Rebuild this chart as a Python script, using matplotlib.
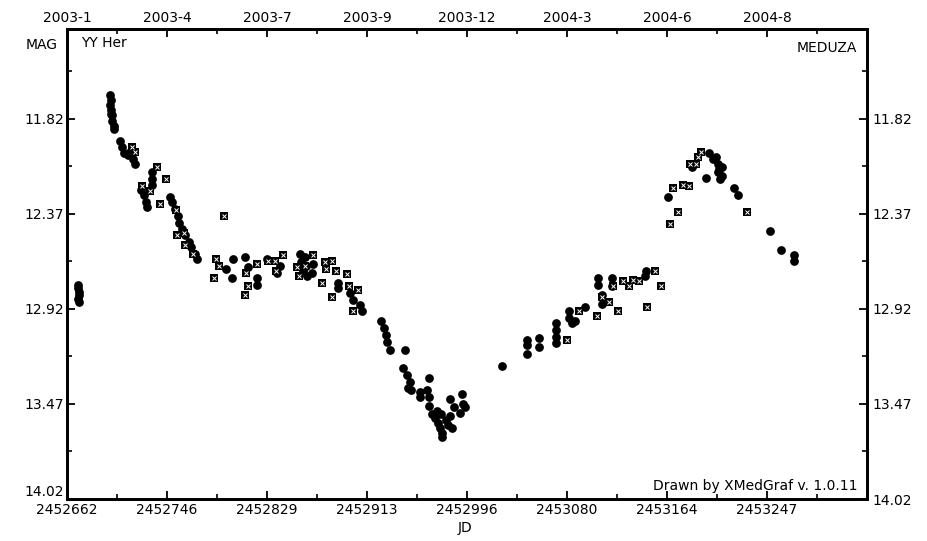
import matplotlib
matplotlib.use("Agg")
import matplotlib.pyplot as plt
import numpy as np

# ---- data ----
jd_circ = [2452671, 2452671, 2452672, 2452672, 2452671, 2452672,
           2452698, 2452699, 2452698, 2452699, 2452699, 2452700, 2452700, 2452701, 2452701,
           2452706, 2452708, 2452710, 2452713, 2452715, 2452717, 2452719,
           2452733, 2452733, 2452733, 2452724, 2452726, 2452728, 2452729,
           2452748, 2452750, 2452752, 2452755, 2452756, 2452758, 2452761, 2452764, 2452766, 2452769, 2452771,
           2452795, 2452801, 2452800, 2452811, 2452813, 2452821, 2452821, 2452829, 2452840, 2452838,
           2452857, 2452858, 2452859, 2452863, 2452868, 2452861, 2452862, 2452867,
           2452889, 2452889, 2452899, 2452901, 2452907, 2452909,
           2452925, 2452927, 2452929, 2452930, 2452932, 2452945, 2452943, 2452946, 2452949, 2452950, 2452947,
           2452965, 2452957, 2452957, 2452963, 2452965, 2452965, 2452967, 2452970, 2452972, 2452974, 2452976,
           2452976, 2452979, 2452981, 2452982, 2452984, 2452971, 2452975, 2452982, 2452986, 2452992, 2452993,
           2452995, 2452991,
           2453026, 2453047, 2453047, 2453047, 2453057, 2453057, 2453071, 2453071, 2453071, 2453071,
           2453082, 2453082, 2453084, 2453087, 2453095, 2453106, 2453106, 2453109, 2453109, 2453118, 2453118,
           2453146, 2453145, 2453165, 2453185, 2453186, 2453199, 2453196, 2453205, 2453206, 2453206, 2453208,
           2453210, 2453210, 2453202, 2453207, 2453220, 2453223, 2453250, 2453259, 2453270, 2453270]
mag_circ = [12.78, 12.80, 12.82, 12.84, 12.86, 12.88,
            11.68, 11.71, 11.74, 11.77, 11.79, 11.80, 11.83, 11.86, 11.88,
            11.95, 11.98, 12.02, 12.03, 12.01, 12.05, 12.08,
            12.13, 12.17, 12.20, 12.23, 12.26, 12.30, 12.33,
            12.27, 12.30, 12.34, 12.38, 12.42, 12.46, 12.49, 12.53, 12.56, 12.60, 12.63,
            12.69, 12.63, 12.74, 12.62, 12.68, 12.74, 12.78, 12.63, 12.67, 12.71,
            12.60, 12.65, 12.70, 12.73, 12.66, 12.62, 12.67, 12.71,
            12.77, 12.80, 12.83, 12.87, 12.90, 12.93,
            12.99, 13.03, 13.07, 13.11, 13.16, 13.16, 13.26, 13.30, 13.34, 13.39, 13.38,
            13.32, 13.40, 13.43, 13.39, 13.43, 13.48, 13.53, 13.55, 13.58, 13.61, 13.64,
            13.66, 13.56, 13.59, 13.54, 13.61, 13.51, 13.53, 13.44, 13.49, 13.41, 13.47,
            13.49, 13.52,
            13.25, 13.10, 13.13, 13.18, 13.09, 13.14, 13.00, 13.04, 13.08, 13.12,
            12.93, 12.97, 13.00, 12.99, 12.91, 12.74, 12.78, 12.84, 12.89, 12.74, 12.79,
            12.70, 12.73, 12.27, 12.10, 12.08, 12.02, 12.16, 12.04, 12.08, 12.13, 12.17,
            12.10, 12.15, 12.05, 12.11, 12.22, 12.26, 12.47, 12.58, 12.61, 12.64]

jd_sq = [2452716, 2452719, 2452737, 2452745, 2452725, 2452731, 2452740, 2452753, 2452754, 2452760,
         2452761, 2452767, 2452793, 2452787, 2452789, 2452785, 2452811, 2452813, 2452812, 2452821,
         2452830, 2452836, 2452843, 2452837, 2452854, 2452861, 2452868, 2452856, 2452875, 2452878,
         2452884, 2452879, 2452887, 2452896, 2452898, 2452905, 2452884, 2452901,
         2453080, 2453090, 2453105, 2453109, 2453115, 2453119, 2453127, 2453132, 2453135, 2453140,
         2453123, 2453154, 2453159, 2453147, 2453166, 2453173, 2453169, 2453177, 2453182, 2453183,
         2453188, 2453190, 2453192, 2453231]
mag_sq = [11.98, 12.01, 12.10, 12.17, 12.21, 12.24, 12.31, 12.35, 12.49, 12.48,
          12.55, 12.60, 12.38, 12.63, 12.67, 12.74, 12.84, 12.79, 12.71, 12.66,
          12.64, 12.64, 12.61, 12.70, 12.68, 12.67, 12.61, 12.73, 12.77, 12.65,
          12.64, 12.69, 12.70, 12.72, 12.79, 12.81, 12.85, 12.93,
          13.10, 12.93, 12.96, 12.85, 12.88, 12.79, 12.76, 12.79, 12.75, 12.76,
          12.93, 12.70, 12.79, 12.91, 12.43, 12.36, 12.22, 12.20, 12.21, 12.08,
          12.08, 12.04, 12.01, 12.36]

jd_ticks = [2452662, 2452746, 2452829, 2452913, 2452996, 2453080, 2453164, 2453247]
date_labels = ["2003-1", "2003-4", "2003-7", "2003-9", "2003-12", "2004-3", "2004-6", "2004-8"]
mag_ticks = [11.82, 12.37, 12.92, 13.47, 14.02]

# ---- figure ----
plt.rcParams['font.family'] = ['DejaVu Sans']
fig = plt.figure(figsize=(9.27, 5.41), dpi=100)
ax = fig.add_axes([67/927, 1 - 499/541, 800/927, 470/541])

x0, x1 = 2452662, 2453331
ax.set_xlim(x0, x1)
ax.set_ylim(14.02, 11.30)

ax.plot(jd_circ, mag_circ, 'o', color='black', markersize=6.3, markeredgewidth=0, zorder=3)
ax.plot(jd_sq, mag_sq, 's', color='black', markersize=5.6, markeredgewidth=0, zorder=4)
ax.plot(jd_sq, mag_sq, 'x', color='white', markersize=2.6, markeredgewidth=0.7, zorder=5)

step = (x1 - x0) / 8.0
major_x = [x0 + i * step for i in range(9)]
minor_x = [x0 + (i + 0.5) * step for i in range(8)]
ax.set_xticks(major_x)
ax.set_xticklabels([str(t) for t in jd_ticks] + [""], fontsize=10)
ax.set_xticks(minor_x, minor=True)

minor_y = [11.545, 12.095, 12.645, 13.195, 13.745]
ax.set_yticks(mag_ticks)
ax.set_yticklabels(["%.2f" % m for m in mag_ticks], fontsize=10)
ax.set_yticks(minor_y, minor=True)

ax.tick_params(axis='both', which='major', direction='in', length=6, width=1.3, pad=2, color='black')
ax.tick_params(axis='both', which='minor', direction='in', length=3.5, width=1.2)
ax.tick_params(axis='x', which='major', pad=3)
# lowest left label sits just above the bottom spine, as in the reference
ax.get_yticklabels()[-1].set_verticalalignment('bottom')

axt = ax.twiny()
axt.set_xlim(ax.get_xlim())
axt.set_xticks(major_x)
axt.set_xticklabels(date_labels + [""], fontsize=10)
axt.set_xticks(minor_x, minor=True)
axt.tick_params(axis='x', which='major', direction='in', length=6, width=1.3, pad=3)
axt.tick_params(axis='x', which='minor', direction='in', length=3.5, width=1.2)

axr = ax.twinx()
axr.set_ylim(ax.get_ylim())
axr.set_yticks(mag_ticks)
axr.set_yticklabels(["%.2f" % m for m in mag_ticks], fontsize=10)
axr.set_yticks(minor_y, minor=True)
axr.tick_params(axis='y', which='major', direction='in', length=6, width=1.3, pad=4)
axr.tick_params(axis='y', which='minor', direction='in', length=3.5, width=1.2)

for a in (ax, axt, axr):
    for s in a.spines.values():
        s.set_linewidth(1.8)

ax.text(0.018, 0.985, "YY Her", transform=ax.transAxes, ha='left', va='top', fontsize=10)
ax.text(0.988, 0.975, "MEDUZA", transform=ax.transAxes, ha='right', va='top', fontsize=10)
ax.text(0.988, 0.012, "Drawn by XMedGraf v. 1.0.11", transform=ax.transAxes,
        ha='right', va='bottom', fontsize=10)
fig.text(42/927, 1 - 45/541, "MAG", ha='center', va='center', fontsize=10)
fig.text(465/927, 1 - 528/541, "JD", ha='center', va='center', fontsize=10)

fig.savefig("out.png", dpi=100, facecolor='white')
